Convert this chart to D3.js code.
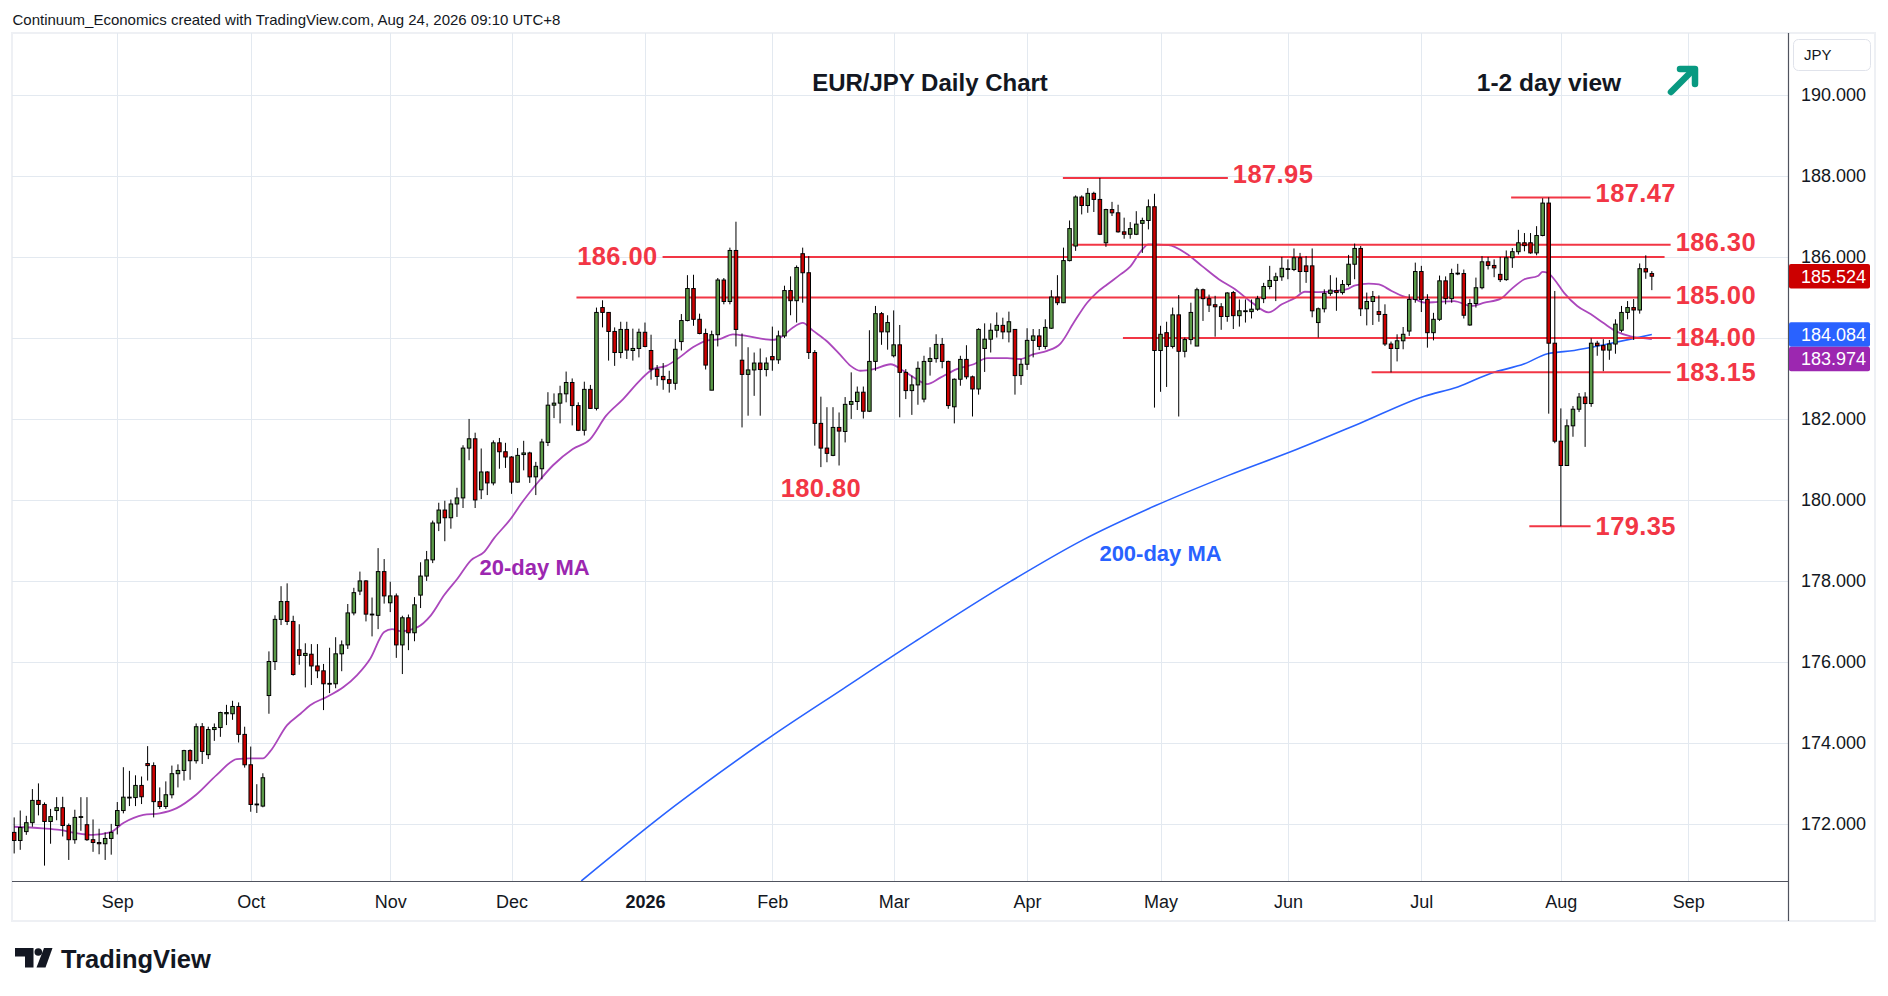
<!DOCTYPE html>
<html>
<head>
<meta charset="utf-8">
<title>EUR/JPY Daily Chart</title>
<script src="https://cdn.jsdelivr.net/npm/d3@7/dist/d3.min.js"></script>
<style>
  html, body { margin: 0; padding: 0; background: #ffffff; }
  #chart svg { display: block; }
</style>
</head>
<body>
<div id="chart"></div>
<script>
// daily candles, [open, high, low, close], one array per month
var aug2025 = [
    [171.79,172.16,171.27,171.59],[171.59,172.33,171.36,171.91],[171.81,172.20,171.73,172.03],
    [172.03,172.86,171.93,172.58],[172.58,173.00,172.21,172.48],[172.48,172.53,170.97,172.06],
    [172.06,172.37,171.51,172.18],[172.33,172.66,172.09,172.40],[172.40,172.67,171.69,171.96],
    [171.96,172.01,171.11,171.61],[171.61,172.35,171.51,172.16],[172.16,172.66,171.83,172.18],
    [171.98,172.66,171.58,171.61],[171.61,172.11,171.31,171.54],[171.54,171.88,171.25,171.51],
    [171.51,171.79,171.11,171.64],[171.64,172.00,171.24,171.79]
];
var sep2025 = [
    [171.96,172.54,171.74,172.33],[172.33,173.40,172.26,172.66],[172.64,173.31,172.44,172.66],
    [172.65,173.20,172.44,172.95],[172.95,173.17,172.49,172.67],[173.49,173.92,173.07,173.44],
    [173.44,173.52,172.16,172.55],[172.55,172.90,172.37,172.43],[172.43,173.05,172.37,172.72],
    [172.72,173.44,172.63,173.24],[173.24,173.47,172.90,173.32],[173.32,173.83,173.07,173.81],
    [173.81,173.84,173.09,173.56],[173.56,174.48,173.49,174.40],[174.40,174.49,173.48,173.79],
    [173.71,174.40,173.60,174.33],[174.33,174.48,174.05,174.38],[174.38,174.77,174.15,174.75],
    [174.72,174.94,174.44,174.75],[174.72,175.04,174.57,174.90],[174.90,175.00,174.01,174.21],
    [174.21,174.40,173.39,173.46]
];
var oct2025 = [
    [173.46,173.91,172.30,172.48],[172.49,172.98,172.27,172.47],[172.44,173.25,172.41,173.14],
    [175.17,176.26,174.72,176.01],[176.01,177.15,175.80,177.05],[177.05,177.87,176.91,177.49],
    [177.49,177.94,176.91,177.00],[177.00,177.14,175.66,175.69],[176.30,176.93,175.93,176.16],
    [176.16,176.46,175.37,176.21],[176.19,176.44,175.43,175.90],[175.90,176.44,175.60,175.78],
    [175.78,175.95,174.81,175.46],[175.45,176.35,175.23,175.47],[175.46,176.61,175.35,176.20],
    [176.20,176.53,175.77,176.42],[176.42,177.43,176.32,177.21],[177.21,177.83,177.15,177.71],
    [177.75,178.23,177.65,178.00],[178.00,178.02,177.00,177.18],[177.16,177.59,176.63,177.18],
    [177.15,178.81,176.81,178.23],[178.23,178.54,177.44,177.63]
];
var nov2025 = [
    [177.46,177.98,177.23,177.63],[177.63,177.69,176.10,176.42],[176.42,177.14,175.70,177.09],
    [177.09,177.17,176.29,176.72],[176.72,177.60,176.51,177.41],[177.65,178.46,177.33,178.12],
    [178.12,178.74,178.00,178.52],[178.52,179.49,178.44,179.43],[179.43,179.93,179.23,179.75],
    [179.75,179.98,178.98,179.56],[179.56,180.01,179.29,179.90],[179.90,180.30,179.58,180.05],
    [180.05,181.35,179.80,181.28],[181.28,182.00,180.98,181.51],[181.51,181.66,179.80,180.00],
    [180.25,181.27,180.02,180.69],[180.69,180.71,180.12,180.42],[180.42,181.47,180.36,181.41],
    [181.41,181.53,180.77,181.19],[181.19,181.41,180.79,181.06]
];
var dec2025 = [
    [181.06,181.08,180.15,180.44],[180.44,181.28,180.43,181.10],[181.12,181.46,180.73,181.16],
    [181.16,181.19,180.42,180.57],[180.57,180.94,180.12,180.83],[180.77,181.51,180.51,181.43],
    [181.42,182.66,181.33,182.34],[182.34,182.63,182.02,182.39],[182.39,182.82,181.89,182.62],
    [182.62,183.17,182.41,182.90],[182.90,183.00,181.84,182.33],[182.33,182.41,181.70,181.72],
    [181.72,182.92,181.59,182.73],[182.73,182.84,182.25,182.26],[182.26,184.75,182.21,184.63],
    [184.75,184.93,184.26,184.63],[184.63,184.64,183.44,184.16],[184.16,184.26,183.31,183.64],
    [183.64,184.40,183.50,184.21],[184.21,184.40,183.48,183.70],[183.69,184.23,183.44,183.74],
    [183.74,184.23,183.52,184.14]
];
var jan2026 = [
    [184.14,184.38,183.77,183.79],[183.69,184.08,182.97,183.23],[183.23,183.33,182.82,183.05],
    [183.05,183.38,182.72,182.97],[182.97,183.19,182.65,182.88],[182.88,183.97,182.72,183.72],
    [183.91,184.59,183.69,184.43],[184.43,185.55,184.41,185.22],[185.22,185.56,184.30,184.46],
    [184.46,184.60,184.09,184.11],[184.11,184.23,183.22,183.33],[182.71,184.18,182.71,184.08],
    [184.08,185.48,183.79,185.43],[185.43,185.48,184.83,184.90],[184.90,186.23,184.83,186.16],
    [186.16,186.87,183.79,184.21],[183.45,184.11,181.79,183.10],[183.10,183.77,182.08,183.21],
    [183.21,183.64,182.57,183.38],[183.38,183.74,182.08,183.22],[183.22,183.52,183.05,183.38]
];
var feb2026 = [
    [183.54,184.28,183.19,183.46],[183.46,184.18,183.36,184.05],[184.05,185.29,184.00,185.17],
    [185.17,185.52,184.56,184.92],[184.92,185.79,184.38,185.74],[186.08,186.23,184.87,185.61],
    [185.61,186.02,183.48,183.64],[183.64,183.70,181.34,181.89],[181.89,182.55,180.81,181.28],
    [181.28,182.29,180.93,181.15],[181.10,182.29,181.08,181.79],[181.79,182.16,180.85,181.70],
    [181.69,182.54,181.42,182.36],[182.36,183.15,182.00,182.43],[182.43,182.80,182.22,182.66],
    [182.66,182.80,182.01,182.19],[182.19,184.19,182.17,183.42],[183.42,184.79,183.19,184.60],
    [184.60,184.64,183.83,184.15],[184.15,184.56,183.71,184.38]
];
var mar2026 = [
    [183.56,184.68,183.52,183.83],[183.83,184.32,182.04,183.15],[183.15,183.23,182.49,182.70],
    [182.70,183.07,182.10,182.84],[182.84,183.42,182.35,183.25],[182.49,183.56,182.41,183.42],
    [183.42,183.77,183.07,183.49],[183.49,184.09,183.39,183.84],[183.84,184.00,183.25,183.42],
    [183.42,183.44,182.25,182.33],[182.30,183.00,181.89,182.98],[182.98,183.56,182.82,183.47],
    [183.47,183.82,182.98,183.04],[183.04,183.07,182.06,182.74],[182.74,184.24,182.60,184.21],
    [183.74,184.36,183.16,183.97],[183.97,184.36,183.64,184.19],[184.19,184.63,184.01,184.31],
    [184.31,184.50,183.97,184.15],[184.15,184.65,183.89,184.40],[184.21,184.22,182.60,183.07],
    [183.07,183.48,182.84,183.35]
];
var apr2026 = [
    [183.35,184.24,183.21,183.94],[183.94,184.22,183.52,184.05],[184.05,184.22,183.70,183.79],
    [183.79,184.46,183.72,184.26],[184.24,185.18,184.22,185.01],[185.01,185.55,184.81,184.87],
    [184.87,186.23,184.86,185.91],[185.91,186.90,185.89,186.70],[186.27,187.52,186.15,187.48],
    [187.48,187.52,187.05,187.27],[187.27,187.70,187.09,187.57],[187.57,187.61,187.11,187.42],
    [187.42,187.95,186.54,186.56],[186.35,187.19,186.25,187.17],[187.17,187.36,187.01,187.09],
    [187.09,187.29,186.60,186.62],[186.62,186.97,186.45,186.56],[186.56,186.86,186.45,186.70],
    [186.56,187.13,186.54,186.81],[186.83,186.97,186.10,186.90],[186.90,187.42,186.68,187.24],
    [187.24,187.56,182.28,183.69]
];
var may2026 = [
    [183.69,184.30,182.67,184.09],[184.13,184.40,182.79,183.79],[183.79,184.75,183.74,184.57],
    [184.57,185.06,182.06,183.67],[183.67,184.01,183.52,183.96],[183.96,184.87,183.84,184.63],
    [183.80,185.24,183.80,185.19],[185.19,185.22,184.42,184.97],[184.97,185.07,184.64,184.81],
    [184.82,185.04,184.03,184.77],[184.77,184.86,184.20,184.53],[184.53,185.13,184.40,185.11],
    [185.12,185.16,184.22,184.55],[184.55,184.95,184.28,184.67],[184.65,184.95,184.38,184.67],
    [184.65,184.95,184.48,184.71],[184.71,185.04,184.67,184.97],[184.97,185.36,184.86,185.27],
    [185.27,185.78,185.20,185.42],[185.42,185.61,184.91,185.51],[185.51,186.00,185.41,185.72]
];
var jun2026 = [
    [185.69,185.94,185.45,185.71],[185.69,186.21,185.65,185.98],[185.98,186.10,185.12,185.64],
    [185.78,186.02,185.36,185.64],[185.78,186.21,184.51,184.67],[184.38,184.75,184.01,184.72],
    [184.72,185.20,184.63,185.10],[185.10,185.55,185.04,185.18],[185.17,185.49,184.67,185.12],
    [185.12,185.43,185.07,185.32],[185.32,186.05,185.27,185.82],[185.82,186.33,185.45,186.21],
    [186.21,186.27,184.54,184.72],[184.72,185.12,184.31,184.90],[184.90,185.16,184.32,185.02],
    [184.65,185.05,184.40,184.58],[184.58,184.83,183.80,183.85],[183.85,183.91,183.15,183.74],
    [183.74,184.09,183.42,183.93],[183.93,184.27,183.72,184.09],[184.17,185.08,184.05,184.95],
    [184.95,185.86,184.87,185.64]
];
var jul2026 = [
    [185.64,185.78,184.64,184.95],[184.95,185.08,183.76,184.13],[184.13,184.62,183.94,184.46],
    [184.46,185.54,184.42,185.41],[185.41,185.52,184.83,184.97],[184.97,185.71,184.87,185.59],
    [185.59,185.83,185.55,185.60],[185.59,185.69,184.48,184.56],[184.32,184.96,184.30,184.85],
    [184.85,185.49,184.75,185.24],[185.24,186.02,185.20,185.88],[185.88,186.00,185.69,185.79],
    [185.79,185.94,185.50,185.73],[185.57,186.00,185.38,185.44],[185.44,186.16,185.41,185.98],
    [185.98,186.22,185.73,186.13],[186.13,186.67,186.06,186.35],[186.35,186.59,186.14,186.28],
    [186.35,186.59,186.08,186.10],[186.10,186.76,186.04,186.53],[186.53,187.45,186.51,187.33],
    [187.33,187.47,182.13,183.87],[183.87,185.16,181.40,181.45]
];
var aug2026 = [
    [181.45,182.26,179.35,180.85],[180.85,181.99,180.85,181.83],[181.83,182.32,181.56,182.24],
    [182.24,182.64,182.17,182.54],[182.54,182.66,181.31,182.38],[182.38,183.99,182.30,183.87],
    [183.87,183.93,183.56,183.81],[183.81,183.97,183.18,183.70],[183.70,183.95,183.46,183.85],
    [183.85,184.46,183.61,184.34],[184.19,184.79,184.14,184.63],[184.63,184.91,184.46,184.75],
    [184.75,184.96,183.95,184.69],[184.69,185.84,184.60,185.71],[185.71,186.04,185.46,185.63],
    [185.59,185.65,185.18,185.524]
];

// trading calendar (weekdays, without these holidays)
var firstDay = "2025-08-07";
var calendarEnd = "2026-10-01";
var holidays = ["2025-12-25", "2026-01-01"];

// time axis
var monthTickDates = ["2025-09-01","2025-10-01","2025-11-03","2025-12-01","2026-01-02","2026-02-02",
                      "2026-03-02","2026-04-01","2026-05-01","2026-06-01","2026-07-01","2026-08-03","2026-09-01"];
var monthTickLabels = ["Sep","Oct","Nov","Dec","2026","Feb","Mar","Apr","May","Jun","Jul","Aug","Sep"];

// price axis
var priceTicks = [172, 174, 176, 178, 180, 182, 184, 186, 188, 190];

// 20-day MA (bar number, value)
var ma20Bar = [0,4.7,7.5,10.3,13,15.8,18,21.3,24,26.8,30,33.4,36.7,38.9,41,42.2,45,
    47.2,48.8,51.6,54.3,56.5,58.7,61,62.3,63.7,66.5,68.7,70.9,73.1,75.3,77.5,79.1,81.9,83.6,
    86.6,88.8,92.1,94.9,97.6,100.4,103.1,105.3,107.5,109.7,111.9,114.1,116.3,118.5,120.7,122.9,125.1,126.7,128.4,130,131.7,133.9,
    136.2,137.9,139.5,141.7,144.5,146.6,148.8,150.5,152.7,155.4,158.2,160.4,163.7,165.9,168.1,170.3,172.5,174.7,176.9,178.5,180.2,182.4,184,
    185.8,187,190.3,193.1,195.8,198.6,201.3,204.1,206.8,209,211.2,212.8,215,217.8,220,221.1,223.3,225,227.1,228.8,231,232.6,
    234.7,237.4,240.2,242.4,245.1,246.8,249,251.2,252,252.8,253.9,255.5,257.7,259.9,262.1,264.3,266.5,268.2,270];
var ma20Value = [171.93,171.89,171.85,171.77,171.73,171.79,172.02,172.22,172.26,172.39,172.72,173.21,173.60,173.62,173.62,173.79,174.44,
    174.72,174.93,175.14,175.38,175.67,176.08,176.74,176.81,176.76,176.86,177.15,177.65,178.06,178.51,178.72,179.05,179.54,179.91,
    180.48,180.85,181.26,181.49,182.08,182.49,182.94,183.23,183.31,183.52,183.77,183.93,183.97,184.09,184.05,183.99,183.95,184.05,184.26,184.37,184.18,183.93,
    183.58,183.31,183.19,183.23,183.35,183.19,182.98,182.86,183.02,183.23,183.35,183.50,183.50,183.48,183.60,183.68,183.86,184.38,184.87,185.12,185.32,185.57,185.76,
    186.15,186.31,186.29,186.10,185.78,185.45,185.20,184.87,184.63,184.83,184.99,185.14,185.13,185.16,185.22,185.30,185.34,185.32,185.16,185.04,184.95,184.87,
    184.89,184.91,184.79,184.87,184.97,185.20,185.45,185.53,185.63,185.61,185.45,185.12,184.79,184.59,184.36,184.15,184.04,184.00,183.974];

// 200-day MA (bar number, value)
var ma200Bar = [93.5,108.8,124.7,136.6,148.5,164.4,176.3,188.2,200.1,211.5,222,232.5,238,243.5,249,252.8,257.2,262.7,266.5,270];
var ma200Value = [170.59,172.43,174.15,175.33,176.50,178.00,179.02,179.86,180.60,181.25,181.90,182.56,182.79,183.13,183.36,183.61,183.69,183.85,183.97,184.084];

// horizontal levels drawn on the chart (price, from bar, to bar)
var levelPrices = [187.95, 187.47, 186.30, 186.00, 185.00, 184.00, 183.15, 179.35];
var levelFrom = [172.9, 246.8, 174.4, 106.9, 92.7, 182.8, 223.8, 249.8];
var levelTo = [200.1, 259.9, 273.1, 272.1, 273.1, 273.1, 273.1, 259.9];
var lowLabel = 180.80;

function tradingDays() {
    var parse = d3.timeParse("%Y-%m-%d");
    var fmt = d3.timeFormat("%Y-%m-%d");
    return d3.timeDay.range(parse(firstDay), parse(calendarEnd))
        .filter(function(d) { return d.getDay() !== 0 && d.getDay() !== 6; })
        .map(fmt)
        .filter(function(s) { return holidays.indexOf(s) < 0; });
}

function drawChart() {
    var width = 1888, height = 996;
    var plot = { left: 12, top: 33, right: 1788, bottom: 881 };
    var frameRight = 1875, frameBottom = 921;
    var font = "'Liberation Sans', Arial, sans-serif";
    var red = "#f23645", upColor = "#5b9a48", downColor = "#cc0000";

    var days = tradingDays();
    var candles = [].concat(aug2025, sep2025, oct2025, nov2025, dec2025, jan2026, feb2026,
                            mar2026, apr2026, may2026, jun2026, jul2026, aug2026)
        .map(function(c, i) {
            return { i: i, date: days[i], o: c[0], h: c[1], l: c[2], c: c[3] };
        });
    var tickBars = monthTickDates.map(function(d) { return days.indexOf(d); });

    // scales: x runs over bar numbers, y over price
    var x = d3.scaleLinear().domain([-0.36, 292.45]).range([plot.left, plot.right]);
    var y = d3.scaleLinear().domain([170.59, 191.53]).range([plot.bottom, plot.top]);
    var step = x(1) - x(0);

    var svg = d3.select("#chart")
        .append("svg")
        .attr("width", width)
        .attr("height", height)
        .style("font-family", font);

    svg.append("rect").attr("width", width).attr("height", height).attr("fill", "#ffffff");

    // frame round the pane and axes
    svg.append("rect")
        .attr("x", plot.left).attr("y", plot.top)
        .attr("width", frameRight - plot.left).attr("height", frameBottom - plot.top)
        .attr("fill", "none").attr("stroke", "#eef0f4").attr("stroke-width", 2);

    svg.append("clipPath").attr("id", "pane")
        .append("rect")
        .attr("x", plot.left).attr("y", plot.top)
        .attr("width", plot.right - plot.left).attr("height", plot.bottom - plot.top);

    // grid
    var grid = svg.append("g").attr("stroke", "#e3e9f0").attr("stroke-width", 1);
    grid.selectAll(".hgrid")
        .data(priceTicks)
        .enter()
        .append("line")
        .attr("x1", plot.left).attr("x2", plot.right)
        .attr("y1", function(d) { return Math.round(y(d)) + 0.5; })
        .attr("y2", function(d) { return Math.round(y(d)) + 0.5; });
    grid.selectAll(".vgrid")
        .data(tickBars)
        .enter()
        .append("line")
        .attr("y1", plot.top).attr("y2", plot.bottom)
        .attr("x1", function(d) { return Math.round(x(d)) + 0.5; })
        .attr("x2", function(d) { return Math.round(x(d)) + 0.5; });

    var pane = svg.append("g").attr("clip-path", "url(#pane)");

    // moving averages
    var line = d3.line()
        .x(function(d) { return x(d[0]); })
        .y(function(d) { return y(d[1]); })
        .curve(d3.curveMonotoneX);
    pane.append("path")
        .datum(d3.zip(ma200Bar, ma200Value))
        .attr("d", line)
        .attr("fill", "none").attr("stroke", "#2962ff").attr("stroke-width", 1.6);
    pane.append("path")
        .datum(d3.zip(ma20Bar, ma20Value))
        .attr("d", line)
        .attr("fill", "none").attr("stroke", "#ab47bc").attr("stroke-width", 1.8);

    // level lines
    pane.selectAll(".level")
        .data(levelPrices)
        .enter()
        .append("line")
        .attr("x1", function(d, i) { return x(levelFrom[i]); })
        .attr("x2", function(d, i) { return x(levelTo[i]); })
        .attr("y1", function(d) { return y(d); })
        .attr("y2", function(d) { return y(d); })
        .attr("stroke", red).attr("stroke-width", 2);

    // candles: wick then body
    var bodyWidth = step * 0.58;
    var candle = pane.selectAll(".candle")
        .data(candles)
        .enter()
        .append("g");
    candle.append("line")
        .attr("x1", function(d) { return x(d.i); })
        .attr("x2", function(d) { return x(d.i); })
        .attr("y1", function(d) { return y(d.h); })
        .attr("y2", function(d) { return y(d.l); })
        .attr("stroke", "#000000").attr("stroke-width", 1);
    candle.append("rect")
        .attr("x", function(d) { return x(d.i) - bodyWidth / 2; })
        .attr("width", bodyWidth)
        .attr("y", function(d) { return y(Math.max(d.o, d.c)); })
        .attr("height", function(d) { return Math.max(0.8, Math.abs(y(d.o) - y(d.c))); })
        .attr("fill", function(d) { return d.c >= d.o ? upColor : downColor; })
        .attr("stroke", "#000000").attr("stroke-width", 1);

    // axis lines
    svg.append("line")
        .attr("x1", plot.left).attr("x2", plot.right)
        .attr("y1", plot.bottom + 0.5).attr("y2", plot.bottom + 0.5)
        .attr("stroke", "#50535e").attr("stroke-width", 1.2);
    svg.append("line")
        .attr("x1", plot.right + 0.5).attr("x2", plot.right + 0.5)
        .attr("y1", plot.top).attr("y2", frameBottom)
        .attr("stroke", "#50535e").attr("stroke-width", 1.2);

    // price axis
    var yAxis = d3.axisRight(y)
        .tickValues(priceTicks)
        .tickFormat(d3.format(".3f"))
        .tickSize(0)
        .tickPadding(13);
    svg.append("g")
        .attr("transform", "translate(" + plot.right + ",0)")
        .call(yAxis)
        .call(function(g) { g.select(".domain").remove(); })
        .attr("font-family", font)
        .attr("font-size", 18)
        .selectAll("text").attr("fill", "#131722");

    // time axis
    var xAxis = d3.axisBottom(x)
        .tickValues(tickBars)
        .tickFormat(function(d, i) { return monthTickLabels[i]; })
        .tickSize(0)
        .tickPadding(14);
    svg.append("g")
        .attr("transform", "translate(0," + plot.bottom + ")")
        .call(xAxis)
        .call(function(g) { g.select(".domain").remove(); })
        .attr("font-family", font)
        .attr("font-size", 18)
        .selectAll("text")
        .attr("fill", "#131722")
        .attr("font-weight", function(d, i) { return monthTickLabels[i] === "2026" ? "bold" : "normal"; });

    // level labels
    var labelDy = { "187.95": 5, "187.47": 5, "186.30": 6, "185.00": 7 };
    svg.selectAll(".levelLabel")
        .data(levelPrices)
        .enter()
        .append("text")
        .attr("x", function(d, i) {
            return d === 186.00 ? x(levelFrom[i]) - 5 : x(levelTo[i]) + 5;
        })
        .attr("y", function(d) {
            var k = d.toFixed(2);
            return y(d) + (labelDy[k] !== undefined ? labelDy[k] : 8.5);
        })
        .attr("text-anchor", function(d) { return d === 186.00 ? "end" : "start"; })
        .attr("fill", red)
        .attr("font-size", 25.5)
        .attr("font-weight", "bold")
        .attr("letter-spacing", 0.4)
        .text(function(d) { return d.toFixed(2); });

    // label under the February low
    var lowBar = candles.reduce(function(a, b) {
        return (b.i > 110 && b.i < 150 && b.l < a.l) ? b : a;
    }, candles[120]);
    svg.append("text")
        .attr("x", x(lowBar.i))
        .attr("y", y(lowBar.l) + 30)
        .attr("text-anchor", "middle")
        .attr("fill", red)
        .attr("font-size", 25.5)
        .attr("font-weight", "bold")
        .attr("letter-spacing", 0.4)
        .text(lowLabel.toFixed(2));

    // MA names
    svg.append("text")
        .attr("x", x(85.8)).attr("y", y(178.15))
        .attr("text-anchor", "middle")
        .attr("fill", "#9c27b0").attr("font-size", 22).attr("font-weight", "bold")
        .text("20-day MA");
    svg.append("text")
        .attr("x", x(189)).attr("y", y(178.49))
        .attr("text-anchor", "middle")
        .attr("fill", "#2962ff").attr("font-size", 22).attr("font-weight", "bold")
        .text("200-day MA");

    // price tags on the axis
    var last = candles[candles.length - 1];
    var tags = [
        { v: last.c, color: downColor },
        { v: ma200Value[ma200Value.length - 1], color: "#2962ff" },
        { v: ma20Value[ma20Value.length - 1], color: "#9c27b0" }
    ];
    var tagH = 24.5, prevBottom = -Infinity;
    tags.forEach(function(t) {
        t.cy = Math.max(y(t.v), prevBottom + tagH / 2);
        prevBottom = t.cy + tagH / 2;
    });
    var tag = svg.selectAll(".tag")
        .data(tags)
        .enter()
        .append("g");
    tag.append("rect")
        .attr("x", plot.right + 1)
        .attr("y", function(d) { return d.cy - tagH / 2; })
        .attr("width", 81).attr("height", tagH)
        .attr("rx", 2)
        .attr("fill", function(d) { return d.color; });
    tag.append("text")
        .attr("x", plot.right + 13)
        .attr("y", function(d) { return d.cy; })
        .attr("dy", "0.35em")
        .attr("fill", "#ffffff")
        .attr("font-size", 18)
        .text(function(d) { return d3.format(".3f")(d.v); });

    // currency box
    svg.append("rect")
        .attr("x", 1793.5).attr("y", 39.5).attr("width", 77).attr("height", 31).attr("rx", 5)
        .attr("fill", "#ffffff").attr("stroke", "#e0e3eb");
    svg.append("text")
        .attr("x", 1804).attr("y", 60)
        .attr("fill", "#131722").attr("font-size", 15)
        .text("JPY");

    // header and titles
    svg.append("text")
        .attr("x", 12.5).attr("y", 25)
        .attr("fill", "#131722").attr("font-size", 15)
        .text("Continuum_Economics created with TradingView.com, Aug 24, 2026 09:10 UTC+8");
    svg.append("text")
        .attr("x", 930).attr("y", 91)
        .attr("text-anchor", "middle")
        .attr("fill", "#131722").attr("font-size", 24).attr("font-weight", "bold")
        .text("EUR/JPY Daily Chart");
    svg.append("text")
        .attr("x", 1549).attr("y", 91)
        .attr("text-anchor", "middle")
        .attr("fill", "#131722").attr("font-size", 24.5).attr("font-weight", "bold")
        .text("1-2 day view");

    // up arrow
    var arrow = svg.append("g")
        .attr("fill", "none").attr("stroke", "#089981").attr("stroke-width", 6.5)
        .attr("stroke-linecap", "round").attr("stroke-linejoin", "round");
    arrow.append("path").attr("d", "M1671,92 L1693,70");
    arrow.append("path").attr("d", "M1680,69 L1695,69 L1695,84");

    // TradingView logo
    var logo = svg.append("g").attr("fill", "#131722");
    logo.append("path").attr("d", "M15,948 H33.5 V967.5 H25 V956.5 H15 Z");
    logo.append("circle").attr("cx", 38.3).attr("cy", 952).attr("r", 3.8);
    logo.append("path").attr("d", "M44,948 H52.5 L45.5,967.5 H36.5 Z");
    svg.append("text")
        .attr("x", 61).attr("y", 967.5)
        .attr("fill", "#131722").attr("font-size", 25.5).attr("font-weight", "bold")
        .text("TradingView");
}

drawChart();
</script>
</body>
</html>
